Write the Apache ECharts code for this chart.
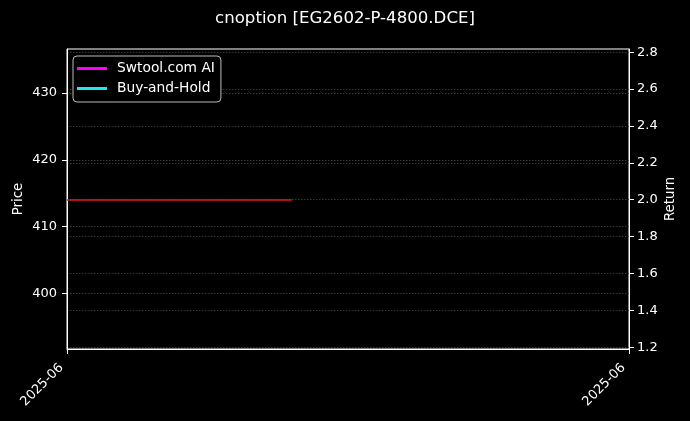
<!DOCTYPE html>
<html>
<head>
<meta charset="utf-8">
<script src="https://cdn.jsdelivr.net/npm/echarts@6/dist/echarts.min.js"></script>
<style>
html,body{margin:0;padding:0;background:#000;}
#c{width:690px;height:421px;}
</style>
</head>
<body>
<div id="c"></div>
<script>
var title = 'cnoption [EG2602-P-4800.DCE]';
var xTickLabels = ['2025-06', '2025-06'];
var xTickPositions = [0, 1];
var priceTicks = [400, 410, 420, 430];
var returnTicks = [1.2, 1.4, 1.6, 1.8, 2.0, 2.2, 2.4, 2.6, 2.8];
var priceX = [0, 0.4];
var priceValues = [414, 414];
var aiReturns = [];
var bhReturns = [];
var seriesNames = ['Swtool.com AI', 'Buy-and-Hold'];

var FONT = 'DejaVu Sans';
var chart = echarts.init(document.getElementById('c'));
var priceData = priceX.map(function (x, i) { return [x, priceValues[i]]; });
var splitStyle = { show: true, lineStyle: { color: '#454545', width: 0.8, type: [1.5, 1.5] } };
chart.setOption({
  backgroundColor: '#000',
  animation: false,
  title: { text: title, left: 'center', top: 5, textStyle: { color: '#fff', fontSize: 16.6, fontWeight: 'normal', fontFamily: FONT } },
  grid: { show: true, left: 67, right: 61, top: 49, bottom: 72, borderColor: '#fff', borderWidth: 1, backgroundColor: '#000' },
  legend: {
    data: seriesNames,
    orient: 'vertical', left: 73, top: 56,
    padding: [5, 6, 6, 4], itemGap: 5,
    itemWidth: 30, itemHeight: 3, icon: 'rect',
    backgroundColor: '#000', borderColor: '#bbb', borderWidth: 1, borderRadius: 4,
    textStyle: { color: '#fff', fontSize: 13.8, fontFamily: FONT, lineHeight: 15, padding: [0, 0, 0, 5] }
  },
  xAxis: {
    type: 'value', min: 0, max: 1, interval: 1,
    axisLine: { show: true, lineStyle: { color: '#fff' } },
    axisTick: { show: true, length: 5, lineStyle: { color: '#fff' } },
    splitLine: { show: false },
    axisLabel: {
      color: '#fff', fontSize: 13, fontFamily: FONT, rotate: 45, margin: 11, padding: [0, 8, 0, 0],
      formatter: function (v) { var i = xTickPositions.indexOf(v); return i >= 0 ? xTickLabels[i] : ''; }
    }
  },
  yAxis: [
    {
      type: 'value', min: 391.7, max: 436.6, position: 'left',
      name: 'Price', nameLocation: 'middle', nameGap: 42, nameRotate: 90, nameMoveOverlap: false,
      nameTextStyle: { color: '#fff', fontSize: 13.3, fontFamily: FONT },
      axisLine: { show: true, lineStyle: { color: '#fff' } },
      axisTick: { show: true, length: 5, lineStyle: { color: '#fff' }, customValues: priceTicks },
      axisLabel: { color: '#fff', fontSize: 13, fontFamily: FONT, margin: 10, customValues: priceTicks,
        formatter: function (v) { return String(Math.round(v)); } },
      splitLine: splitStyle
    },
    {
      type: 'value', min: 1.191, max: 2.817, position: 'right',
      name: 'Return', nameLocation: 'middle', nameGap: 35, nameRotate: 90, nameMoveOverlap: false,
      nameTextStyle: { color: '#fff', fontSize: 13.3, fontFamily: FONT },
      axisLine: { show: true, lineStyle: { color: '#fff' } },
      axisTick: { show: true, length: 5, lineStyle: { color: '#fff' }, customValues: returnTicks },
      axisLabel: { color: '#fff', fontSize: 13, fontFamily: FONT, margin: 8, customValues: returnTicks,
        formatter: function (v) { return v.toFixed(1); } },
      splitLine: splitStyle
    }
  ],
  series: [
    { name: 'price', type: 'line', yAxisIndex: 0, data: priceData, showSymbol: false,
      lineStyle: { color: '#e01818', width: 1.5 }, itemStyle: { color: '#e01818' } },
    { name: seriesNames[0], type: 'line', yAxisIndex: 1, data: aiReturns, showSymbol: false,
      lineStyle: { color: '#ff00ff', width: 2 }, itemStyle: { color: '#ff00ff' } },
    { name: seriesNames[1], type: 'line', yAxisIndex: 1, data: bhReturns, showSymbol: false,
      lineStyle: { color: '#00e5ee', width: 2 }, itemStyle: { color: '#1de9f0' } }
  ]
});
</script>
</body>
</html>
